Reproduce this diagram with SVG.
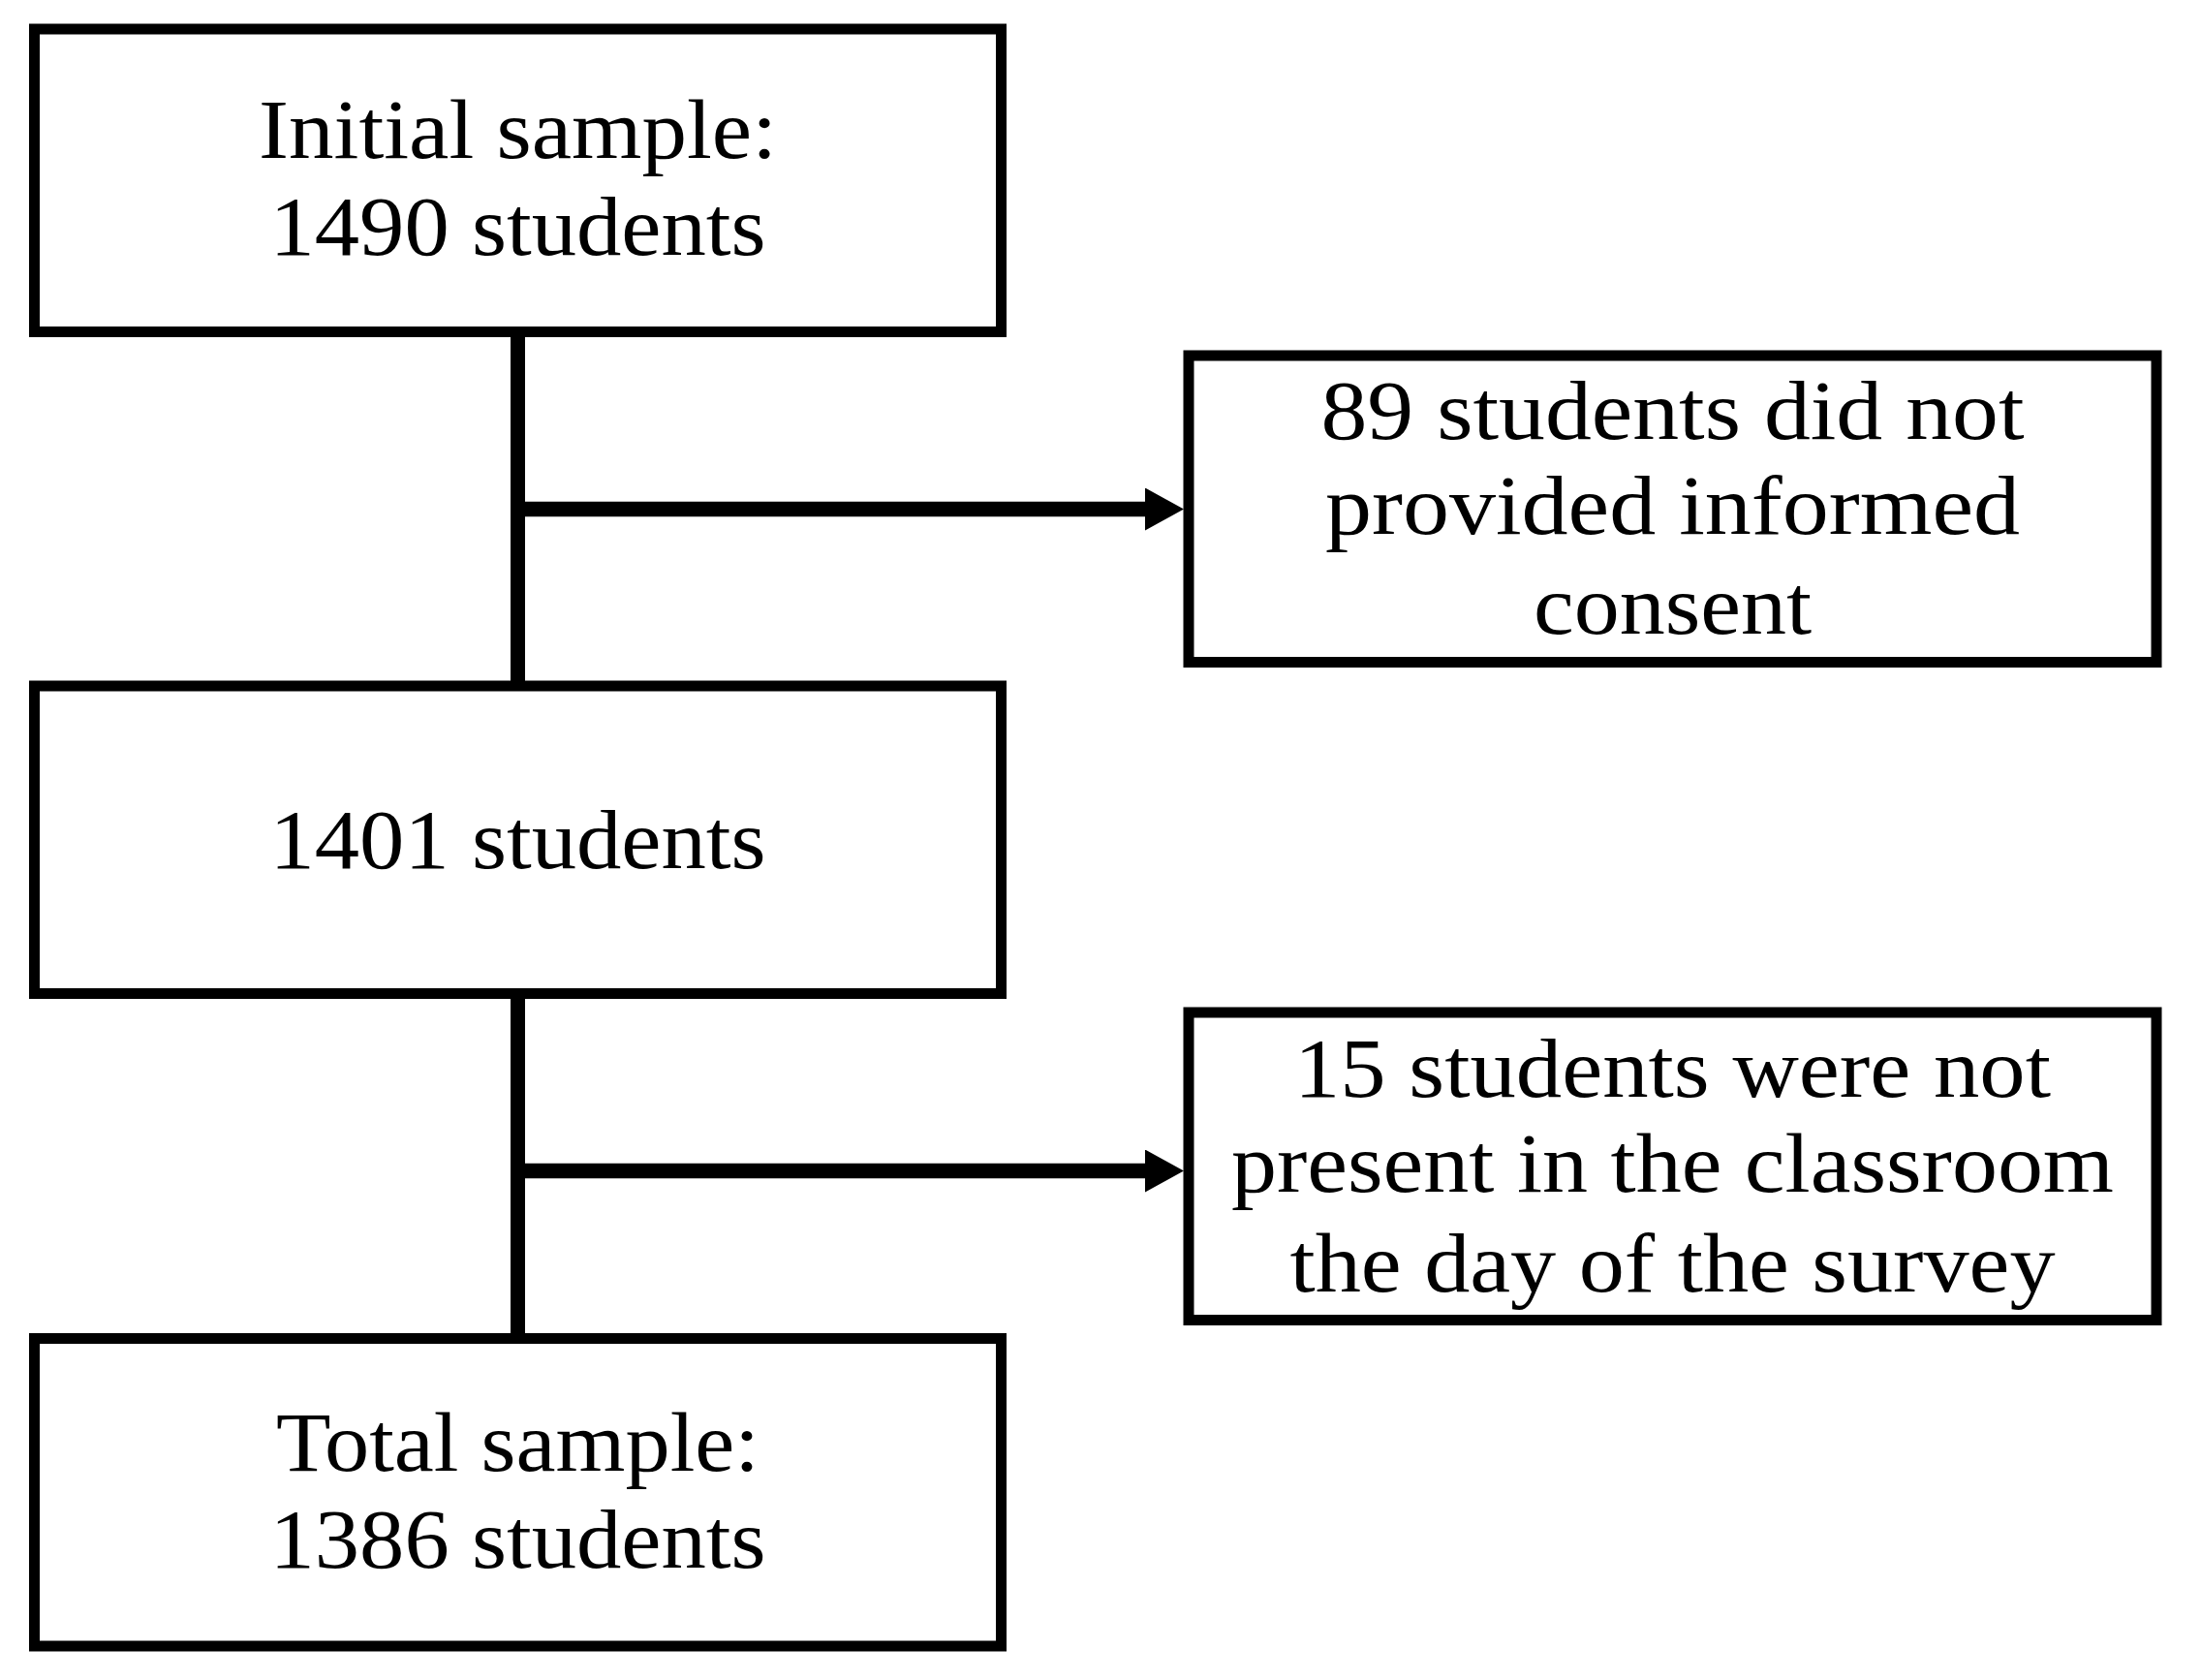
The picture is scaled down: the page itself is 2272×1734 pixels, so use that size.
<svg xmlns="http://www.w3.org/2000/svg" width="2272" height="1734" viewBox="0 0 2272 1734">
<style>
.box{fill:#fff;stroke:#000;stroke-width:11}
.t{font-family:"Liberation Serif","Times New Roman",serif;font-size:86px;fill:#000;text-anchor:middle}
.vl{stroke:#000;stroke-width:15;fill:none}
.hl{stroke:#000;stroke-width:15.5;fill:none}
</style>
<defs>
<marker id="ah" markerUnits="userSpaceOnUse" viewBox="0 0 40 44" refX="0" refY="22" markerWidth="40" markerHeight="44" orient="auto">
<path d="M0,0 L40,22 L0,44 Z" fill="#000"/>
</marker>
</defs>
<rect width="2272" height="1734" fill="#fff"/>
<g id="connectors">
<line class="vl" x1="534.5" y1="342" x2="534.5" y2="708"/>
<line class="vl" x1="534.5" y1="1025" x2="534.5" y2="1381"/>
<line class="hl" x1="527" y1="525.5" x2="1182" y2="525.5" marker-end="url(#ah)"/>
<line class="hl" x1="527" y1="1208.5" x2="1182" y2="1208.5" marker-end="url(#ah)"/>
</g>
<g id="initial">
<rect class="box" x="35.5" y="30" width="998" height="312.5"/>
<text class="t" x="534.5" y="163" textLength="535" lengthAdjust="spacingAndGlyphs">Initial sample:</text>
<text class="t" x="534.5" y="263" textLength="512" lengthAdjust="spacingAndGlyphs">1490 students</text>
</g>
<g id="excluded1">
<rect class="box" x="1227" y="367" width="999" height="316.5"/>
<text class="t" x="1726.5" y="453" textLength="726" lengthAdjust="spacingAndGlyphs">89 students did not</text>
<text class="t" x="1726.5" y="551" textLength="717" lengthAdjust="spacingAndGlyphs">provided informed</text>
<text class="t" x="1726.5" y="654" textLength="287" lengthAdjust="spacingAndGlyphs">consent</text>
</g>
<g id="mid">
<rect class="box" x="35.5" y="708" width="998" height="317.5"/>
<text class="t" x="534.5" y="896" textLength="512" lengthAdjust="spacingAndGlyphs">1401 students</text>
</g>
<g id="excluded2">
<rect class="box" x="1227" y="1045" width="999" height="317.5"/>
<text class="t" x="1726.5" y="1132" textLength="781" lengthAdjust="spacingAndGlyphs">15 students were not</text>
<text class="t" x="1726.5" y="1230" textLength="911" lengthAdjust="spacingAndGlyphs">present in the classroom</text>
<text class="t" x="1726.5" y="1333" textLength="790" lengthAdjust="spacingAndGlyphs">the day of the survey</text>
</g>
<g id="total">
<rect class="box" x="35.5" y="1381.5" width="998" height="317.5"/>
<text class="t" x="534.5" y="1518" textLength="499" lengthAdjust="spacingAndGlyphs">Total sample:</text>
<text class="t" x="534.5" y="1618" textLength="512" lengthAdjust="spacingAndGlyphs">1386 students</text>
</g>
</svg>
